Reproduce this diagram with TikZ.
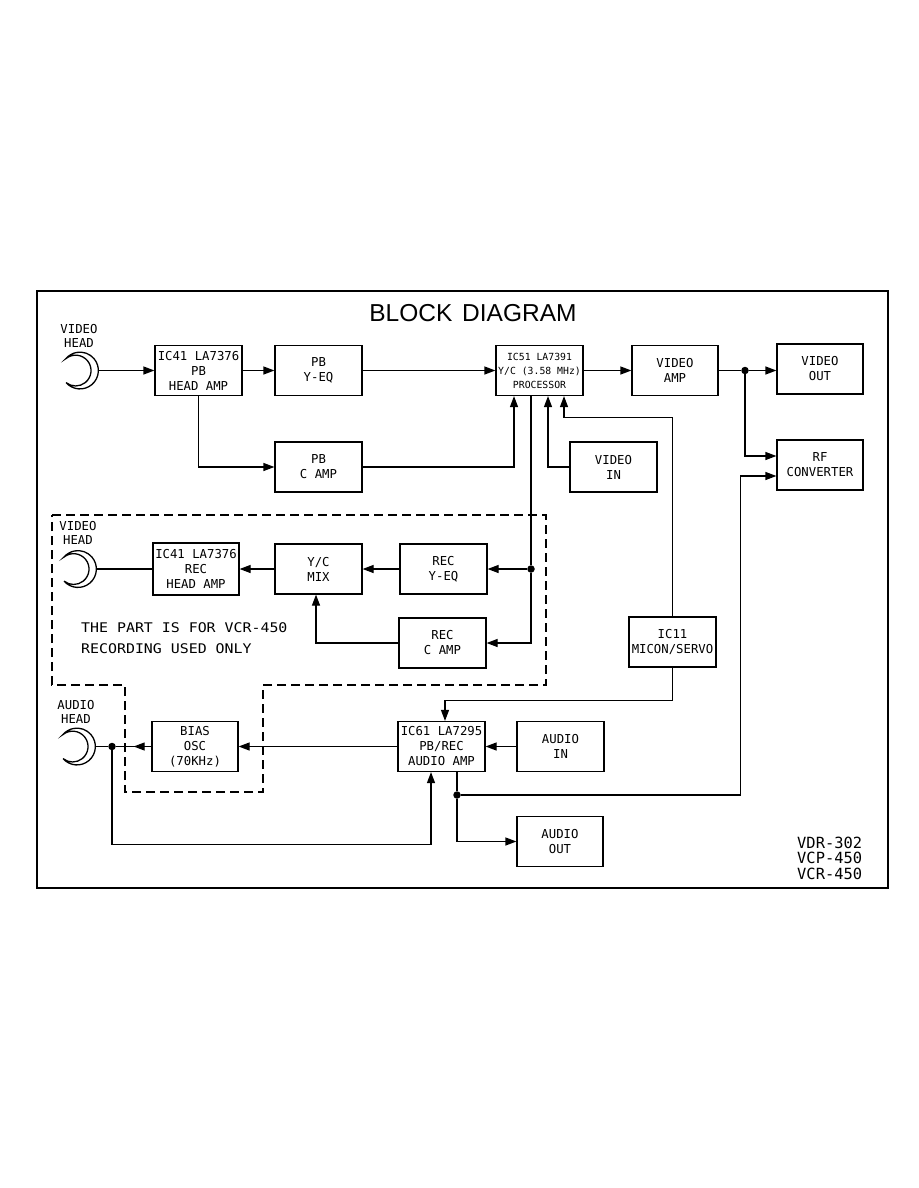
\documentclass[tikz,border=0pt]{standalone}
\usepackage{fontspec}
\usepackage{graphicx}
\setmainfont{DejaVu Sans Mono}
\newfontfamily\titlefont{Liberation Sans}
\usetikzlibrary{arrows.meta,decorations.markings}
\newcommand{\drawhead}[1]{%
  \draw[line width=1.3pt] (#1) ++(-14,12) arc[start angle=139.4, end angle=-139.4, radius=18.4]
     arc[start angle=-128.7, end angle=128.7, radius=15.4];}
\tikzset{
  blk/.style={draw, line width=1.2pt, minimum width=87pt, minimum height=50pt, inner sep=0pt,
    align=center, font=\fontsize{12.3}{15}\selectfont},
  conn/.style={line width=1.2pt, -{Triangle[length=11pt,width=8pt]}},
  wire/.style={line width=1.2pt},
  junc/.style={circle, fill, inner sep=0pt, minimum size=7.5pt},
  lbl/.style={align=center, inner sep=0pt, font=\fontsize{12.3}{14}\selectfont},
  midarrow/.style={postaction={decorate}, decoration={markings,
    mark=at position 0.5 with {\arrow{Triangle[length=11pt,width=8pt]}}}},
  region/.style={line width=1.2pt, dash pattern=on 9pt off 5pt},
}
\begin{document}
\begin{tikzpicture}[x=1pt,y=-1pt]
\useasboundingbox (0,0) rectangle (918,1188);
\fill[white] (0,0) rectangle (918,1188);
% frame and title
\draw[line width=1.4pt] (37,291) rectangle (888,888);
\node[inner sep=0pt, font=\titlefont\fontsize{24.5}{25}\selectfont] (title) at (473,313) {BLOCK\hspace{0.4em}DIAGRAM};

% heads
\coordinate (vh1c) at (80,370.5);
\coordinate (vh2c) at (78,569);
\coordinate (ahc) at (77,746.5);
\drawhead{vh1c}
\drawhead{vh2c}
\drawhead{ahc}
\coordinate (vh1) at (98.4,370.5);
\coordinate (vh2) at (96.4,569);
\coordinate (ah) at (95.4,746.5);
\node[lbl] (vh1l) at (79,336) {VIDEO\\HEAD};
\node[lbl] (vh2l) at (78,533) {VIDEO\\HEAD};
\node[lbl] (ahl) at (76,712) {AUDIO\\HEAD};

% blocks
\node[blk] (ic41pb) at (198.5,370.5) {IC41 LA7376\\PB\\HEAD AMP};
\node[blk] (pbyeq) at (318.5,370.5) {PB\\Y-EQ};
\node[blk] (pbcamp) at (318.5,467) {PB\\C AMP};
\node[blk, font=\fontsize{9.8}{14}\selectfont] (ic51) at (539.5,370.5) {IC51 LA7391\\Y/C (3.58 MHz)\\PROCESSOR};
\node[blk] (videoin) at (613.5,467) {VIDEO\\IN};
\node[blk, minimum width=86pt] (vamp) at (675,370.5) {VIDEO\\AMP};
\node[blk, minimum width=86pt] (vout) at (820,369) {VIDEO\\OUT};
\node[blk, minimum width=86pt] (rf) at (820,465) {RF\\CONVERTER};
\node[blk, minimum width=86pt, minimum height=52pt] (ic41rec) at (196,569) {IC41 LA7376\\REC\\HEAD AMP};
\node[blk] (ycmix) at (318.5,569) {Y/C\\MIX};
\node[blk] (recyeq) at (443.5,569) {REC\\Y-EQ};
\node[blk] (reccamp) at (442.5,643) {REC\\C AMP};
\node[blk] (ic11) at (672.5,642) {IC11\\MICON/SERVO};
\node[blk] (ic61) at (441.5,746.5) {IC61 LA7295\\PB/REC\\AUDIO AMP};
\node[blk] (audioin) at (560.5,746.5) {AUDIO\\IN};
\node[blk, minimum width=86pt] (bias) at (195,746.5) {BIAS\\OSC\\(70KHz)};
\node[blk, minimum width=86pt] (aout) at (560,841.5) {AUDIO\\OUT};

% junctions
\node[junc] (d1) at (745,370.5) {};
\node[junc] (d2) at (531,569) {};
\node[junc] (d3) at (112,746.5) {};
\node[junc] (d4) at (457,795) {};

% dashed region
\draw[region] (52,515) -- (546,515) -- (546,685) -- (263,685) -- (263,792)
  -- (125,792) -- (125,685) -- (52,685) -- cycle;

% playback video path
\draw[conn] (vh1) -- (ic41pb.west);
\draw[conn] (ic41pb.east) -- (pbyeq.west);
\draw[conn] (ic41pb.south) |- (pbcamp.west);
\draw[conn] (pbyeq.east) -- (ic51.west);
\draw[conn] (pbcamp.east) -| ([xshift=-25.5pt]ic51.south);
\draw[conn] (videoin.west) -| ([xshift=8.5pt]ic51.south);
\draw[conn] (ic11.north) -- ++(0,-199) -| ([xshift=24.5pt]ic51.south);
\draw[conn] (ic51.east) -- (vamp.west);
\draw[wire] (vamp.east) -- (d1);
\draw[conn] (d1) -- (vout.west |- d1);
\draw[conn] (d1) |- ([yshift=9pt]rf.west);
\draw[conn] (d4) -| ([xshift=-36pt,yshift=-11pt]rf.west) -- ([yshift=-11pt]rf.west);

% record video path
\draw[wire] ([xshift=-8.5pt]ic51.south) -- (d2);
\draw[conn] (d2) -- (recyeq.east);
\draw[conn] (d2) |- (reccamp.east);
\draw[conn] (recyeq.west) -- (ycmix.east);
\draw[conn] (ycmix.west) -- (ic41rec.east);
\draw[wire] (ic41rec.west) -- (vh2);
\draw[conn] (reccamp.west) -| ([xshift=-2.5pt]ycmix.south);

% audio path
\draw[conn] (ic11.south) -- ++(0,33) -| ([xshift=3.5pt]ic61.north);
\draw[conn] (audioin.west) -- (ic61.east);
\draw[conn] (ic61.west) -- (bias.east);
\draw[wire, midarrow] (bias.west) -- (d3);
\draw[wire] (ah) -- (d3);
\draw[conn] (d3) -- ++(0,98) -| ([xshift=-10.5pt]ic61.south);
\draw[wire] ([xshift=15.5pt]ic61.south) -- (d4);
\draw[conn] (d4) |- (aout.west);

% notes
\node[anchor=west, align=left, inner sep=0pt, font=\fontsize{13.3}{21}\selectfont] (note) at (81,638.5)
  {\scalebox{1.12}[1]{THE PART IS FOR VCR-450}\\\scalebox{1.12}[1]{RECORDING USED ONLY}};
\node[anchor=west, align=left, inner sep=0pt, font=\fontsize{15.4}{15.5}\selectfont] (models) at (797,858)
  {VDR-302\\VCP-450\\VCR-450};
\end{tikzpicture}
\end{document}
